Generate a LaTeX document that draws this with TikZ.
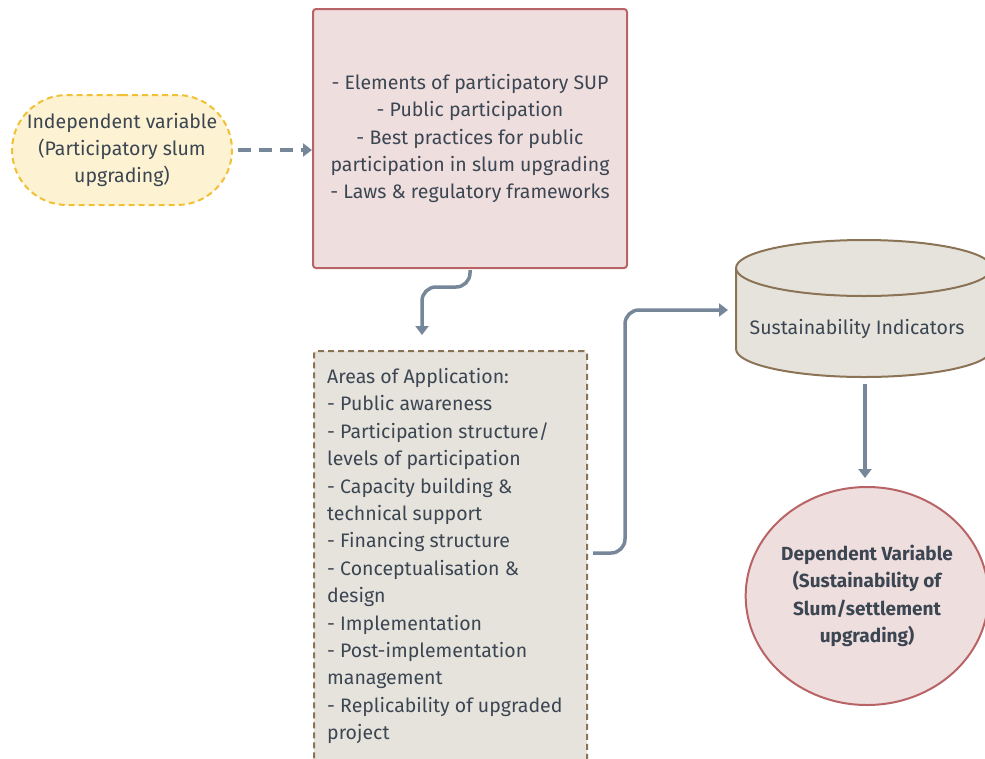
\documentclass[tikz,border=0pt]{standalone}
\usepackage{fontspec}
\setmainfont{Fira Sans}[BoldFont={Fira Sans Bold}]
\usetikzlibrary{arrows.meta,shapes.geometric,shapes.misc}
\definecolor{txt}{HTML}{3B4652}
\definecolor{arr}{HTML}{76879A}
\definecolor{pinkf}{HTML}{EFDEDE}
\definecolor{pinkd}{HTML}{B86466}
\definecolor{yelf}{HTML}{FDF2D2}
\definecolor{yeld}{HTML}{F2C034}
\definecolor{grayf}{HTML}{E6E3DD}
\definecolor{grayd}{HTML}{8B7355}
\tikzset{
  conn/.style={draw=arr, line width=3.5pt, -{Triangle[length=9pt,width=13pt]}, rounded corners=14pt},
  lbl/.style={text=txt, font=\fontsize{19.5}{27.4}\selectfont},
}
\begin{document}
\begin{tikzpicture}[x=1pt,y=1pt]
\useasboundingbox (0,0) rectangle (985,-758);
\begin{scope}
\clip (0,0) rectangle (985,-758);
% independent variable
\node[rounded rectangle, draw=yeld, fill=yelf, dashed, dash pattern=on 6pt off 4pt, line width=2pt,
  minimum width=220pt, minimum height=110pt, align=center, lbl, inner sep=0pt] (iv) at (122,-150)
  {Independent variable\\(Participatory slum\\upgrading)};
% pink box
\node[draw=pinkd, fill=pinkf, line width=2pt, rounded corners=3pt, minimum width=314pt, minimum height=259pt,
  align=center, lbl] (pb) at (470,-138.5)
  {- Elements of participatory SUP\\- Public participation\\- Best practices for public\\participation in slum upgrading\\- Laws \& regulatory frameworks};
% gray box
\node[draw=grayd, fill=grayf, line width=2pt, dashed, dash pattern=on 6pt off 4pt, rounded corners=3pt,
  minimum width=273pt, minimum height=430pt, anchor=north west] (gb) at (313,-350) {};
\node[lbl, align=left, anchor=north west, inner sep=0pt] (gt) at (327,-368)
  {Areas of Application:\\- Public awareness\\- Participation structure/\\levels of participation\\- Capacity building \&\\technical support\\- Financing structure\\- Conceptualisation \&\\design\\- Implementation\\- Post-implementation\\management\\- Replicability of upgraded\\project};
% cylinder
\fill[grayf] (736,-268) -- (736,-349) arc[start angle=180,end angle=360,x radius=128,y radius=28] -- (992,-268) arc[start angle=0,end angle=180,x radius=128,y radius=28] -- cycle;
\draw[grayd, line width=2pt] (736,-268) -- (736,-349) arc[start angle=180,end angle=360,x radius=128,y radius=28] -- (992,-268);
\draw[grayd, line width=2pt] (864,-268) ellipse[x radius=128,y radius=28];
\node[lbl] (si) at (857,-329) {Sustainability Indicators};
\coordinate (sitop) at (728,-310);
\coordinate (sibot) at (865,-384);
% dependent variable
\node[ellipse, draw=pinkd, fill=pinkf, line width=2pt, minimum width=236pt, minimum height=218pt,
  align=center, text=txt, font=\fontsize{19}{27.4}\selectfont\bfseries, inner sep=0pt] (dv) at (867,-596)
  {Dependent Variable\\(Sustainability of\\Slum/settlement\\upgrading)};
% connectors
\coordinate (ivs) at (238,-150);
\draw[conn, dash pattern=on 13pt off 8pt, rounded corners=0pt] (ivs) -- (pb.west |- ivs);
\draw[conn] (470,-270) -- (470,-287) -- (422,-287) -- (422,-335);
\draw[conn] (593,-553) -- (625,-553) -- (625,-310) -- (sitop);
\draw[conn, rounded corners=0pt] (sibot) -- (865,-478);
\end{scope}
\end{tikzpicture}
\end{document}
